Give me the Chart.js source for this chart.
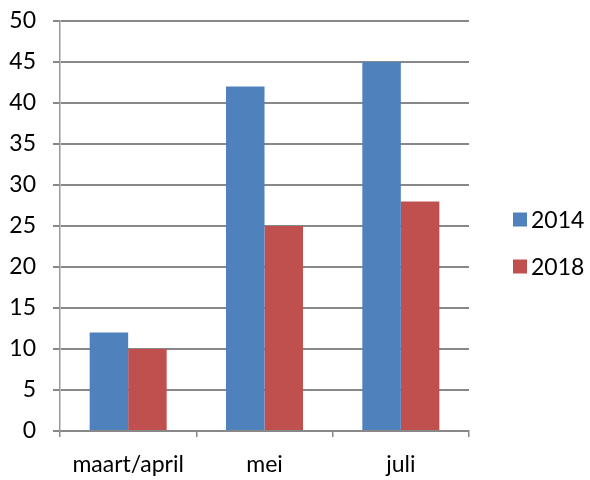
<!DOCTYPE html>
<html>
<head>
<meta charset="utf-8">
<script src="https://cdn.jsdelivr.net/npm/chart.js@4"></script>
<style>
  html, body { margin: 0; padding: 0; background: #fff; }
  #wrap { width: 590px; height: 480px; }
</style>
</head>
<body>
<div id="wrap"><canvas id="c" width="590" height="480"></canvas></div>
<script>
// Months and counts per year
const categories = ['maart/april', 'mei', 'juli'];
const series2014 = [12, 42, 45];
const series2018 = [10, 25, 28];
const seriesNames = ['2014', '2018'];
const seriesColors = ['#4F81BD', '#C0504D'];

const FONT = 'Lato, "Open Sans", sans-serif';
const FONT_SIZE = 23;

// Vertical legend drawn to the right of the plot area
const sideLegend = {
  id: 'sideLegend',
  afterDraw(chart) {
    const ctx = chart.ctx;
    const area = chart.chartArea;
    const x0 = area.right + 44;
    const yMid = (area.top + area.bottom) / 2 + 17;
    const gap = 47;
    ctx.save();
    ctx.font = FONT_SIZE + 'px ' + FONT;
    ctx.textBaseline = 'middle';
    ctx.textAlign = 'left';
    chart.data.datasets.forEach((ds, i) => {
      const y = yMid + (i - (chart.data.datasets.length - 1) / 2) * gap;
      ctx.fillStyle = ds.backgroundColor;
      ctx.fillRect(x0, y - 7, 14, 14);
      ctx.fillStyle = '#000';
      ctx.fillText(ds.label, x0 + 18, y + 1);
    });
    ctx.restore();
  }
};

new Chart(document.getElementById('c'), {
  type: 'bar',
  data: {
    labels: categories,
    datasets: [
      { label: seriesNames[0], data: series2014, backgroundColor: seriesColors[0] },
      { label: seriesNames[1], data: series2018, backgroundColor: seriesColors[1] }
    ]
  },
  options: {
    responsive: false,
    animation: false,
    devicePixelRatio: 1,
    layout: { padding: { top: 21, right: 121, left: 0, bottom: 0 } },
    datasets: { bar: { categoryPercentage: 0.565, barPercentage: 1.0 } },
    plugins: {
      legend: { display: false },
      tooltip: { enabled: false }
    },
    scales: {
      x: {
        afterFit(scale) { scale.height = 49; },
        grid: {
          display: true,
          offset: true,
          drawOnChartArea: false,
          drawTicks: true,
          tickLength: 6,
          color: '#888888',
          lineWidth: 1.5
        },
        border: { display: true, color: '#888888', width: 2 },
        ticks: {
          color: '#000',
          font: { family: FONT, size: FONT_SIZE },
          padding: 14
        }
      },
      y: {
        min: 0,
        max: 50,
        afterFit(scale) {
          scale.width = 60;
          // the outer layout padding already leaves room for the top label
          scale.paddingTop = 0;
          scale.paddingBottom = 0;
        },
        grid: {
          color: '#888888',
          lineWidth: 2,
          drawTicks: true,
          tickLength: 7
        },
        border: { display: true, color: '#999999', width: 1.5 },
        ticks: {
          stepSize: 5,
          color: '#000',
          font: { family: FONT, size: FONT_SIZE },
          padding: 17
        }
      }
    }
  },
  plugins: [sideLegend]
});
</script>
</body>
</html>
